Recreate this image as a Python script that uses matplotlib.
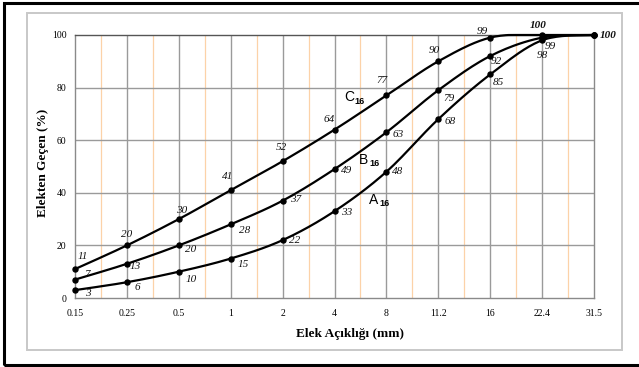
import numpy as np
import matplotlib
matplotlib.use("Agg")
import matplotlib.pyplot as plt
from matplotlib.patches import Rectangle

# sieve sizes (mm) and passing percentages
sieves = ['0.15', '0.25', '0.5', '1', '2', '4', '8', '11.2', '16', '22.4', '31.5']
a16 = [3, 6, 10, 15, 22, 33, 48, 68, 85, 98, 100]
b16 = [7, 13, 20, 28, 37, 49, 63, 79, 92, 99, 100]
c16 = [11, 20, 30, 41, 52, 64, 77, 90, 99, 100, 100]

# label offsets in pixels (dx, dy downward)
off_a = [(13, 3), (10, 5), (12, 8), (13, 6), (12, 0), (12, 1), (11, 0), (12, 2), (8, 8), (0, 15), None]
off_b = [(12, -5), (8, 3), (12, 4), (14, 6), (13, -1), (12, 1), (12, 2), (11, 8), (6, 5), (8, 9), None]
off_c = [(8, -13), (0, -11), (3, -9), (-3, -14), (-1, -14), (-5, -10), (-4, -15), (-4, -11),
         (-8, -6), (-4, -10), (14, 0)]

W, H = 639, 367
fig = plt.figure(figsize=(W / 100, H / 100), dpi=100)

# outer border and inner frame
fig.patches.append(Rectangle((4 / W, 2 / H), (W + 10) / W, (H - 5) / H, transform=fig.transFigure,
                             fill=False, edgecolor='black', linewidth=2.2))
fig.patches.append(Rectangle((27 / W, (H - 350) / H), 595 / W, 337 / H, transform=fig.transFigure,
                             fill=False, edgecolor='#c8c8c8', linewidth=1.4))

x0, x1, yt, yb = 75, 594, 35, 298
ax = fig.add_axes([x0 / W, 1 - yb / H, (x1 - x0) / W, (yb - yt) / H])
n = len(sieves)
xs = np.arange(n)
ax.set_xlim(0, n - 1)
ax.set_ylim(0, 100)

for i in range(n - 1):
    ax.axvline(i + 0.5, color='#fcd2a8', linewidth=0.9, zorder=1)
for i in range(1, n - 1):
    ax.axvline(i, color='#9a9a9a', linewidth=1.0, zorder=1)
for v in [20, 40, 60, 80]:
    ax.axhline(v, color='#9a9a9a', linewidth=1.0, zorder=1)
for s in ax.spines.values():
    s.set_color('#8a8a8a')
    s.set_linewidth(1.0)
ax.spines['top'].set_color('#555555')


def smooth(y, sx=51.9, sy=2.63, steps=20):
    # Catmull-Rom curve through the points, computed in pixel-like units
    px = xs * sx
    py = np.array(y, float) * sy
    pts = np.column_stack([px, py])
    pts = np.vstack([pts[0], pts, pts[-1]])
    out = []
    for k in range(1, len(pts) - 2):
        p0, p1, p2, p3 = pts[k - 1], pts[k], pts[k + 1], pts[k + 2]
        for t in np.linspace(0, 1, steps, endpoint=False):
            t2, t3 = t * t, t * t * t
            out.append(0.5 * ((2 * p1) + (-p0 + p2) * t + (2 * p0 - 5 * p1 + 4 * p2 - p3) * t2
                              + (-p0 + 3 * p1 - 3 * p2 + p3) * t3))
    out.append(pts[-2])
    out = np.array(out)
    return out[:, 0] / sx, np.clip(out[:, 1] / sy, 0, 100)


for vals, offs in [(a16, off_a), (b16, off_b), (c16, off_c)]:
    sx_, sy_ = smooth(vals)
    ax.plot(sx_, sy_, color='black', linewidth=1.6, zorder=3, clip_on=False)
    ax.plot(xs, vals, linestyle='none', marker='o', markersize=3.6, color='black', zorder=4,
            clip_on=False)
    for i, v in enumerate(vals):
        if offs[i] is None:
            continue
        dx, dy = offs[i]
        bold = v == 100
        ax.annotate(str(v), (i, v), xytext=(dx, -dy), textcoords='offset pixels',
                    ha='center', va='center', fontsize=8, style='italic',
                    fontweight='bold' if bold else 'normal',
                    family='Liberation Serif', color='#111111', zorder=5,
                    annotation_clip=False)

# series names
for name, (px, py) in [('A', (378, 200)), ('B', (368, 160)), ('C', (353, 97))]:
    fig.text((px - 4) / W, 1 - py / H, name, fontsize=10, family='Liberation Sans',
             ha='center', va='center')
    fig.text((px + 7) / W, 1 - (py + 4) / H, '16', fontsize=6.5, family='Liberation Sans',
             ha='center', va='center', fontweight='bold')

ax.set_xticks(xs)
ax.set_xticklabels(sieves, family='Liberation Serif', fontsize=7)
ax.set_yticks([0, 20, 40, 60, 80, 100])
ax.set_yticklabels(['0', '20', '40', '60', '80', '100'], family='Liberation Serif', fontsize=7)
ax.tick_params(length=0, pad=8)
ax.tick_params(axis='y', pad=6)

fig.text(350 / W, 1 - 334 / H, 'Elek Açıklığı (mm)', ha='center', va='center',
         family='Liberation Serif', fontweight='bold', fontsize=9.5)
fig.text(43 / W, 1 - 163 / H, 'Elekten Geçen (%)', ha='center', va='center', rotation=90,
         family='Liberation Serif', fontweight='bold', fontsize=9.5)

fig.savefig('out.png', dpi=100)
